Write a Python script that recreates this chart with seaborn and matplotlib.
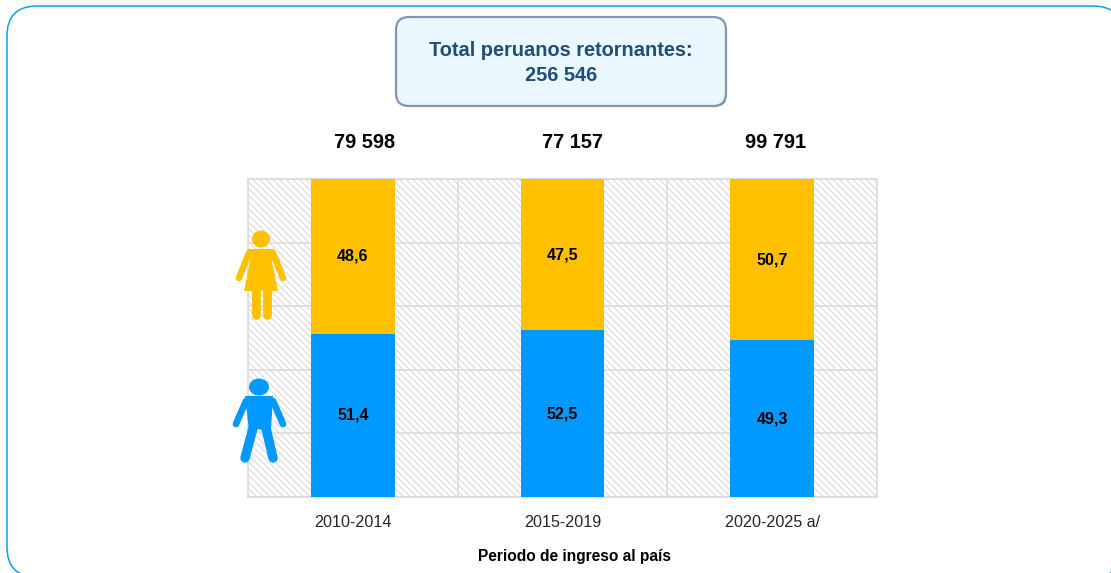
"""Peruanos retornantes por periodo de ingreso y sexo."""
import matplotlib
matplotlib.use("Agg")
import matplotlib.pyplot as plt
import pandas as pd
import seaborn as sns
from matplotlib.patches import Ellipse, FancyBboxPatch, Polygon, Rectangle

periods = ["2010-2014", "2015-2019", "2020-2025 a/"]
men = [51.4, 52.5, 49.3]
women = [48.6, 47.5, 50.7]
totals = ["79 598", "77 157", "99 791"]
box_title = "Total peruanos retornantes:\n256 546"
x_title = "Periodo de ingreso al país"

W, H = 1111, 573
BLUE = "#0099FF"
GOLD = "#FFC000"
GRID = "#DCDCDC"

sns.set_theme(style="white")
plt.rcParams["font.family"] = ["Liberation Sans", "DejaVu Sans"]
plt.rcParams["hatch.linewidth"] = 0.7

df = pd.DataFrame({"period": periods, "men": men, "women": women})
df["all"] = df["men"] + df["women"]

fig = plt.figure(figsize=(W / 100, H / 100), dpi=100, facecolor="white")

# overlay in pixel coords for the frame and title box
bg = fig.add_axes([0, 0, 1, 1], zorder=0)
bg.set_xlim(0, W)
bg.set_ylim(H, 0)
bg.axis("off")
bg.add_patch(FancyBboxPatch((7, 6), 1116, 571, boxstyle="round,pad=0,rounding_size=30",
                            fc="white", ec="#0FA0E4", lw=1.1, clip_on=False))
bg.add_patch(FancyBboxPatch((397, 18), 330, 89, boxstyle="round,pad=0,rounding_size=13",
                            fc="#5F6B85", ec="none", alpha=0.8))
bg.add_patch(FancyBboxPatch((396, 17), 330, 89, boxstyle="round,pad=0,rounding_size=13",
                            fc="#EAF7FF", ec="#8595B0", lw=1.6))
bg.text(561, 63, box_title, ha="center", va="center", color="#1F4E79", fontsize=14.4,
        fontweight="bold", linespacing=1.38)

ax = fig.add_axes([248 / W, (H - 497) / H, (877 - 248) / W, (497 - 179) / H], zorder=1)
ax.patch.set_alpha(0)
ax.add_patch(Rectangle((0, 0), 1, 1, transform=ax.transAxes, fc="white", ec="#D6D6D6",
                       hatch="\\" * 5, lw=0, zorder=0))
sns.barplot(data=df, x="period", y="all", color=GOLD, saturation=1, width=0.4, ax=ax, zorder=3, linewidth=0)
sns.barplot(data=df, x="period", y="men", color=BLUE, saturation=1, width=0.4, ax=ax, zorder=3, linewidth=0)

ax.set_xlim(-0.5, 2.5)
ax.set_ylim(0, 100)
ax.set_yticks(range(0, 101, 20))
ax.set_yticklabels([])
ax.set_xticks([0.5, 1.5], minor=True)
ax.grid(axis="y", which="major", color=GRID, lw=1.2, zorder=1)
ax.grid(axis="x", which="minor", color=GRID, lw=1.2, zorder=1)
ax.set_axisbelow(True)
for s in ax.spines.values():
    s.set_color(GRID)
    s.set_linewidth(1.3)
ax.tick_params(axis="x", which="both", length=0, pad=13)
ax.tick_params(axis="y", length=0)
ax.tick_params(axis="x", which="major", labelsize=11.6, labelcolor="#262626")
ax.set_xlabel(x_title, fontsize=11.2, fontweight="bold", color="black")
ax.xaxis.set_label_coords((575 - 248) / (877 - 248), -(556.5 - 497) / (497 - 179), transform=ax.transAxes)
ax.xaxis.label.set_verticalalignment("center")
ax.set_ylabel("")

# the totals do not sit exactly over the bars in the original
total_shift = [0.057, 0.048, 0.014]
for i, (m, w, t) in enumerate(zip(men, women, totals)):
    ax.text(i, m / 2, f"{m:.1f}".replace(".", ","), ha="center", va="center",
            fontsize=11.6, fontweight="bold", color="black", zorder=5)
    ax.text(i, m + w / 2, f"{w:.1f}".replace(".", ","), ha="center", va="center",
            fontsize=11.6, fontweight="bold", color="black", zorder=5)
    ax.text(i + total_shift[i], 111.6, t, ha="center", va="center", fontsize=14.4,
            fontweight="bold", color="black", clip_on=False)

# pictograms, above the plot
fg = fig.add_axes([0, 0, 1, 1], zorder=2)
fg.set_xlim(0, W)
fg.set_ylim(H, 0)
fg.axis("off")
fg.patch.set_alpha(0)

# woman
fg.add_patch(Ellipse((261, 239), 18, 17, fc=GOLD, ec="none"))
fg.add_patch(Polygon([[248, 249], [274, 249], [272, 262], [278, 291], [244, 291], [250, 262]], fc=GOLD, ec="none"))
fg.plot([249, 239], [253, 278], color=GOLD, lw=4.7, solid_capstyle="round")
fg.plot([273, 283], [253, 278], color=GOLD, lw=4.7, solid_capstyle="round")
fg.plot([255.5, 255.5], [288, 315], color=GOLD, lw=6.3, solid_capstyle="round")
fg.plot([267, 267], [288, 315], color=GOLD, lw=6.3, solid_capstyle="round")

# man
fg.add_patch(Ellipse((259, 387), 20, 17, fc=BLUE, ec="none"))
fg.add_patch(Polygon([[245, 396], [273, 396], [271, 430], [262, 430], [259, 429], [256, 430], [249, 430]], fc=BLUE, ec="none"))
fg.plot([246, 236], [401, 424], color=BLUE, lw=4.8, solid_capstyle="round")
fg.plot([273, 283], [401, 424], color=BLUE, lw=4.8, solid_capstyle="round")
fg.plot([253, 245], [428, 458], color=BLUE, lw=6.8, solid_capstyle="round")
fg.plot([266, 273], [428, 458], color=BLUE, lw=6.8, solid_capstyle="round")

fig.savefig("out.png", dpi=100)
